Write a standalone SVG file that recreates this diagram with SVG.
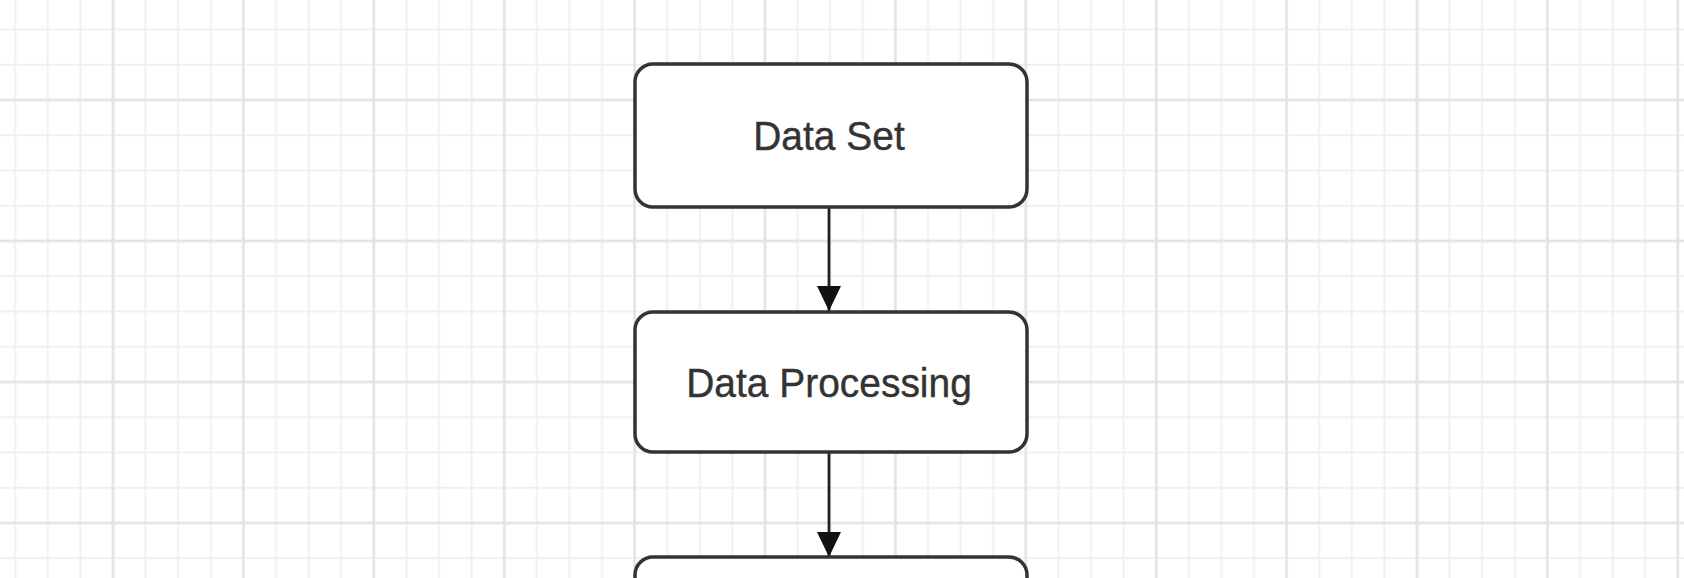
<svg xmlns="http://www.w3.org/2000/svg" width="1684" height="578" viewBox="0 0 1684 578">
  <style>
    .node rect { fill: #ffffff; stroke: #333333; stroke-width: 3.5; }
    .node text { font-family: "Liberation Sans", Arial, sans-serif; font-size: 41px; fill: #333333; text-anchor: middle; stroke: #333333; stroke-width: 0.4; }
    .conn line { stroke: #222222; stroke-width: 2.8; }
  </style>
  <defs>
    <pattern id="minor" patternUnits="userSpaceOnUse" x="-1.1" y="11.875" width="32.6" height="35.25">
      <line x1="16.3" y1="0" x2="16.3" y2="35.25" stroke="#f0f0f0" stroke-width="2"/>
      <line x1="0" y1="17.625" x2="32.6" y2="17.625" stroke="#f0f0f0" stroke-width="2"/>
    </pattern>
    <pattern id="major" patternUnits="userSpaceOnUse" x="47.8" y="29.5" width="130.4" height="141">
      <line x1="65.2" y1="0" x2="65.2" y2="141" stroke="#e3e3e3" stroke-width="2.4"/>
      <line x1="0" y1="70.5" x2="130.4" y2="70.5" stroke="#e3e3e3" stroke-width="2.4"/>
    </pattern>
    <marker id="arrow" markerUnits="userSpaceOnUse" viewBox="0 0 25 24" refX="25" refY="12" markerWidth="25" markerHeight="24" orient="auto">
      <path d="M0,0 L25,12 L0,24 z" fill="#111111"/>
    </marker>
  </defs>
  <rect x="0" y="0" width="1684" height="578" fill="#ffffff"/>
  <rect x="0" y="0" width="1684" height="578" fill="url(#minor)"/>
  <rect x="0" y="0" width="1684" height="578" fill="url(#major)"/>

  <g id="connectors" class="conn">
    <line x1="829" y1="207" x2="829" y2="311" marker-end="url(#arrow)"/>
    <line x1="829" y1="452" x2="829" y2="557" marker-end="url(#arrow)"/>
  </g>

  <g id="node-data-set" class="node">
    <rect x="635" y="64" width="392" height="143" rx="18" ry="18"/>
    <text x="829" y="150" transform="translate(829 0) scale(0.95 1) translate(-829 0)">Data Set</text>
  </g>
  <g id="node-data-processing" class="node">
    <rect x="635" y="312" width="392" height="140" rx="18" ry="18"/>
    <text x="829" y="397" transform="translate(829 0) scale(0.95 1) translate(-829 0)">Data Processing</text>
  </g>
  <g id="node-next" class="node">
    <rect x="635" y="557" width="392" height="80" rx="18" ry="18"/>
  </g>
</svg>
